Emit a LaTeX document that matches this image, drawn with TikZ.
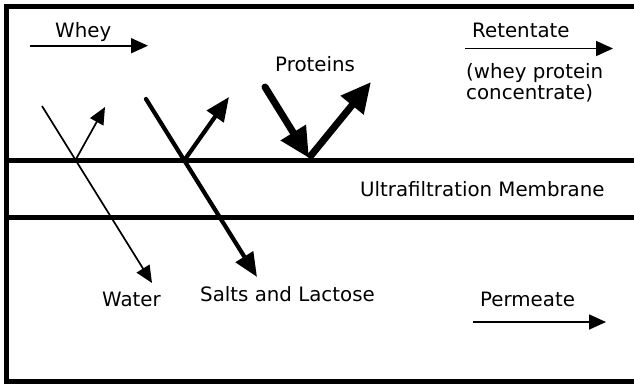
\documentclass[tikz,border=0pt]{standalone}
\usepackage{fontspec}
\setmainfont{DejaVu Sans}
\usetikzlibrary{arrows.meta}
\begin{document}
\begin{tikzpicture}[x=1pt,y=-1pt,
  lbl/.style={font=\fontsize{19.8}{20}\selectfont, inner sep=0pt, anchor=base west},
  wall/.style={line width=5pt},
  flowthin/.style={line width=1.7pt,-{Triangle[length=17pt,width=15pt]}},
  flowmid/.style={line width=4.2pt,line cap=round,-{Triangle[length=24pt,width=20pt]}},
  flowthick/.style={line width=7pt,line cap=round,-{Triangle[length=30pt,width=28pt]}}]
\useasboundingbox (0,0) rectangle (634,383);
% frame and membrane
\draw[wall,line join=miter] (634,6.5) -- (6.5,6.5) -- (6.5,381) -- (634,381);
\draw[wall] (4,160) -- (634,160);
\draw[wall] (4,217) -- (634,217);
% labels
\node[lbl] (whey) at (55,37) {Whey};
\node[lbl] (prot) at (275,71.5) {Proteins};
\node[lbl] (ret) at (472,37) {Retentate};
\node[lbl] (wpc1) at (466,78.5) {(whey protein};
\node[lbl] (wpc2) at (466,99.5) {concentrate)};
\node[lbl] (memb) at (360,196) {Ultrafiltration Membrane};
\node[lbl] (water) at (102,306.5) {Water};
\node[lbl] (salts) at (200,301.5) {Salts and Lactose};
\node[lbl] (perm) at (480,306.5) {Permeate};
% coordinates
\coordinate (wheyA) at (30,45.7);
\coordinate (wheyB) at (148,45.7);
\coordinate (retA) at (465,48.5);
\coordinate (retB) at (613,48.5);
\coordinate (permA) at (473,322);
\coordinate (permB) at (606,322);
\coordinate (wS) at (42,106);
\coordinate (wE) at (152,283);
\coordinate (wM) at (75.5,160);
\coordinate (wR) at (105,107);
\coordinate (sS) at (146,99);
\coordinate (sE) at (257,277);
\coordinate (sM) at (184.5,160);
\coordinate (sR) at (229,97);
\coordinate (pS) at (265,87);
\coordinate (pM) at (309,158);
\coordinate (pR) at (371,82);
% flow arrows
\draw[flowthin] (wheyA) -- (wheyB);
\draw[flowthin] (retA) -- (retB);
\draw[flowthin] (permA) -- (permB);
\draw[flowthin] (wS) -- (wE);
\draw[flowthin] (wM) -- (wR);
\draw[flowmid] (sS) -- (sE);
\draw[flowmid] (sM) -- (sR);
\draw[flowthick] (pS) -- (pM);
\draw[flowthick,line cap=butt] (pM) -- (pR);
\end{tikzpicture}
\end{document}
